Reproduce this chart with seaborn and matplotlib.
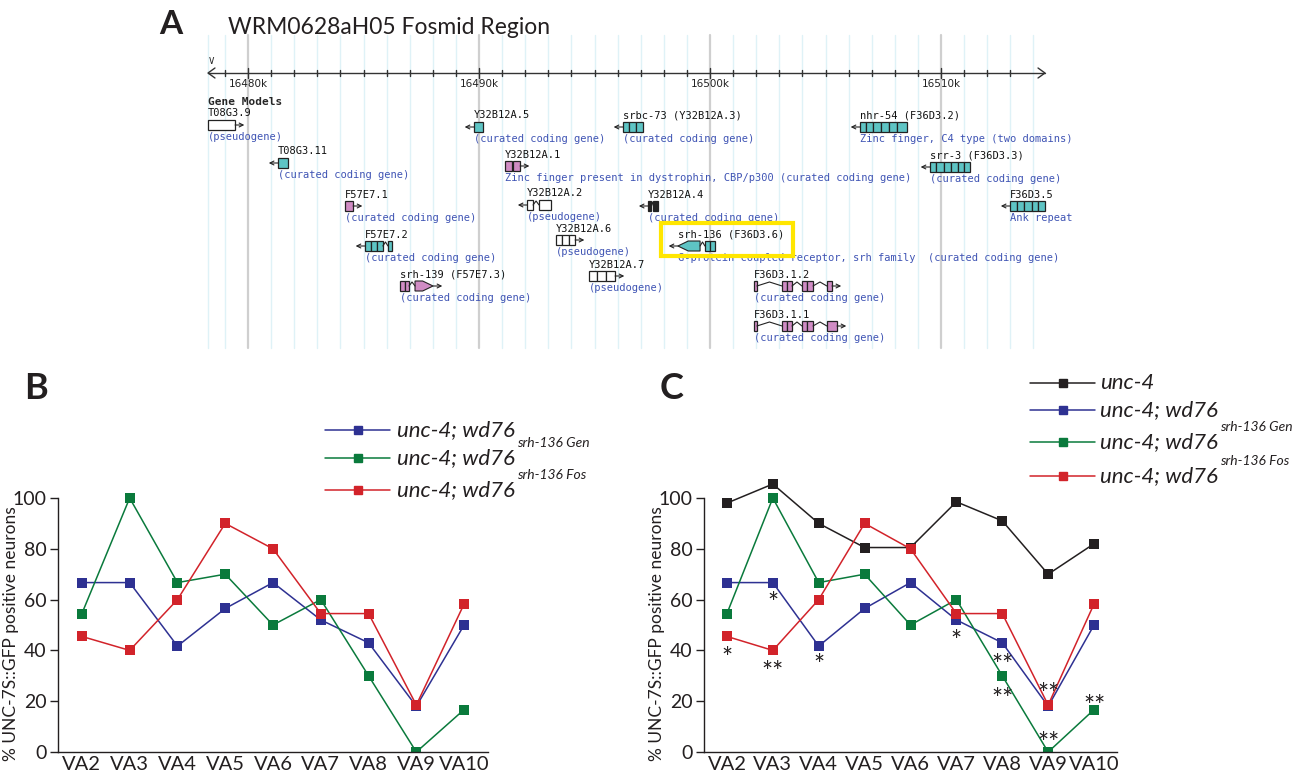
import numpy as np
import pandas as pd
import matplotlib
matplotlib.use("Agg")
import matplotlib.pyplot as plt
from matplotlib.patches import Rectangle, Polygon
import seaborn as sns

sns.set_theme(style="white")
plt.rcParams["font.family"] = ["Lato", "Liberation Sans", "DejaVu Sans"]

# ---- line chart data (panels B and C) ----
categories = ["VA2", "VA3", "VA4", "VA5", "VA6", "VA7", "VA8", "VA9", "VA10"]
unc4 = [98, 105.5, 90, 80.5, 80.5, 98.5, 91, 70, 82]
unc4_wd76 = [66.7, 66.7, 41.7, 56.5, 66.7, 52, 43, 18, 50]
wd76_gen = [54.5, 100, 66.7, 70, 50, 60, 30, 0, 16.7]
wd76_fos = [45.5, 40, 60, 90, 80, 54.5, 54.5, 18.5, 58.3]
yticks = [0, 20, 40, 60, 80, 100]

# significance marks on panel C
star_cat = ["VA2", "VA3", "VA3", "VA4", "VA7", "VA8", "VA8", "VA9", "VA9", "VA10"]
star_val = [39.9, 61.4, 34.5, 37.2, 46.7, 37.2, 23.7, 25.7, 6.6, 21.0]
star_txt = ["*", "*", "**", "*", "*", "**", "**", "**", "**", "**"]

# ---- genome browser data (panel A), positions in kb ----
ruler_start, ruler_end = 16478.27, 16514.5
major_ticks = [16480, 16490, 16500, 16510]
gene_labels = ["T08G3.9", "T08G3.11", "Y32B12A.5", "Y32B12A.1", "srbc-73 (Y32B12A.3)",
               "nhr-54 (F36D3.2)", "srr-3 (F36D3.3)", "F57E7.1", "Y32B12A.2", "Y32B12A.4",
               "F36D3.5", "F57E7.2", "Y32B12A.6", "srh-136 (F36D3.6)", "srh-139 (F57E7.3)",
               "Y32B12A.7", "F36D3.1.2", "F36D3.1.1"]
gene_desc = ["(pseudogene)", "(curated coding gene)", "(curated coding gene)",
             "Zinc finger present in dystrophin, CBP/p300 (curated coding gene)",
             "(curated coding gene)", "Zinc finger, C4 type (two domains)",
             "(curated coding gene)", "(curated coding gene)", "(pseudogene)",
             "(curated coding gene)", "Ank repeat", "(curated coding gene)", "(pseudogene)",
             "G-protein coupled receptor, srh family  (curated coding gene)",
             "(curated coding gene)", "(pseudogene)", "(curated coding gene)",
             "(curated coding gene)"]
gene_exons = [
    [(16478.27, 16479.44)],
    [(16481.30, 16481.73)],
    [(16489.78, 16490.17)],
    [(16491.13, 16491.43), (16491.47, 16491.78)],
    [(16496.23, 16496.50), (16496.50, 16496.80), (16496.80, 16497.10)],
    [(16506.49, 16506.75), (16506.75, 16507.05), (16507.05, 16507.40), (16507.40, 16507.75),
     (16507.75, 16508.10), (16508.10, 16508.53)],
    [(16509.52, 16509.80), (16509.80, 16510.15), (16510.15, 16510.45), (16510.45, 16510.75),
     (16510.75, 16511.00), (16511.00, 16511.26)],
    [(16484.20, 16484.55)],
    [(16492.08, 16492.34), (16492.60, 16493.12)],
    [(16497.32, 16497.45), (16497.55, 16497.75)],
    [(16512.99, 16513.30), (16513.30, 16513.60), (16513.60, 16513.95), (16513.95, 16514.20),
     (16514.20, 16514.50)],
    [(16485.06, 16485.32), (16485.32, 16485.58), (16485.58, 16485.84), (16486.06, 16486.23)],
    [(16493.33, 16493.60), (16493.60, 16493.88), (16493.88, 16494.16)],
    [(16498.61, 16499.57), (16499.78, 16500.00), (16500.00, 16500.22)],
    [(16486.58, 16486.78), (16486.78, 16486.97), (16487.23, 16488.01)],
    [(16494.76, 16495.10), (16495.10, 16495.50), (16495.50, 16495.89)],
    [(16501.90, 16502.03), (16503.12, 16503.33), (16503.33, 16503.55), (16503.98, 16504.22),
     (16504.22, 16504.46), (16505.06, 16505.28)],
    [(16501.90, 16502.03), (16503.12, 16503.33), (16503.33, 16503.55), (16503.98, 16504.22),
     (16504.22, 16504.46), (16505.06, 16505.50)],
]
gene_strand = [1, -1, -1, 1, -1, -1, -1, 1, -1, -1, -1, -1, 1, -1, 1, 1, 1, 1]
gene_kind = ["pseudo", "teal", "teal", "pink", "teal", "teal", "teal", "pink", "pseudo",
             "black", "teal", "teal", "pseudo", "teal", "pink", "pseudo", "pink", "pink"]
gene_lane = [125, 163, 127, 166, 127, 127, 167, 206, 205, 206, 206, 246, 240, 246, 286, 276, 286, 326]
highlight_gene = "srh-136 (F36D3.6)"

kind_colors = {"pseudo": "white", "teal": "#5ec4c4", "pink": "#d08cc4", "black": "#222222"}
line_colors = {"unc-4": "#231f20", "unc-4; wd76": "#2e3192",
               "wd76 Gen": "#0a7a3c", "wd76 Fos": "#d2232a"}

W, H = 1308, 778
fig = plt.figure(figsize=(W / 100, H / 100), dpi=100)


def fx(px):
    return px / W


def fy(py):
    return 1 - py / H


# ================= Panel A: genome browser =================
axA = fig.add_axes([fx(200), fy(350), fx(880), 320 / H])
kb0 = 16480 + (200 - 248) / 23.1
kb1 = 16480 + (1080 - 248) / 23.1
axA.set_xlim(kb0, kb1)
axA.set_ylim(350, 30)
axA.axis("off")

for k in np.arange(16479, 16515):
    col = "#cfcfcf" if k % 10 == 0 else "#dff2f7"
    axA.plot([k, k], [35, 348], color=col, lw=1.6 if k % 10 == 0 else 1.0, zorder=0)
axA.plot([ruler_start, ruler_start], [35, 348], color="#dff2f7", lw=1.0, zorder=0)

axA.plot([ruler_start, ruler_end], [73, 73], color="#333333", lw=1.0)
axA.plot([ruler_start + 0.3, ruler_start, ruler_start + 0.3], [68, 73, 78], color="#333333", lw=1.0)
axA.plot([ruler_end - 0.3, ruler_end, ruler_end - 0.3], [68, 73, 78], color="#333333", lw=1.0)
for k in np.arange(16479, 16514):
    h = 5 if k % 10 == 0 else 3
    axA.plot([k, k], [73 - h, 73 + h], color="#333333", lw=1.0)
for k in major_ticks:
    axA.text(k, 84, f"{k}k", ha="center", va="center", fontsize=7.5,
             family="DejaVu Sans", color="#222222")
axA.text(ruler_start + 0.05, 61, "V", fontsize=6.5, family="DejaVu Sans Mono", va="center")
axA.text(ruler_start, 102, "Gene Models", fontsize=8, family="DejaVu Sans Mono",
         fontweight="bold", va="center")

for name, desc, exons, strand, kind, lane in zip(gene_labels, gene_desc, gene_exons,
                                                 gene_strand, gene_kind, gene_lane):
    g0 = exons[0][0]
    g1 = exons[-1][1]
    axA.text(g0, lane - 11.5, name, fontsize=7.5, family="DejaVu Sans Mono",
             va="center", color="#111111")
    axA.text(g0, lane + 12, desc, fontsize=7.5, family="DejaVu Sans Mono",
             va="center", color="#3f54b4")
    # introns as little chevrons
    for (a0, a1), (b0, b1) in zip(exons[:-1], exons[1:]):
        if b0 - a1 > 0.05:
            mid = (a1 + b0) / 2
            axA.plot([a1, mid, b0], [lane, lane - 4, lane], color="#222222", lw=0.8)
    for i, (e0, e1) in enumerate(exons):
        pointed = ((strand == -1 and i == 0 and name.startswith("srh-136")) or
                   (strand == 1 and i == len(exons) - 1 and name.startswith("srh-139")))
        if pointed:
            tip = 0.45
            if strand == 1:
                pts = [(e0, lane - 5), (e1 - tip, lane - 5), (e1, lane), (e1 - tip, lane + 5), (e0, lane + 5)]
            else:
                pts = [(e1, lane - 5), (e0 + tip, lane - 5), (e0, lane), (e0 + tip, lane + 5), (e1, lane + 5)]
            axA.add_patch(Polygon(pts, closed=True, facecolor=kind_colors[kind],
                                  edgecolor="#222222", lw=0.8))
        else:
            axA.add_patch(Rectangle((e0, lane - 5), e1 - e0, 10, facecolor=kind_colors[kind],
                                    edgecolor="#222222", lw=0.9))
    # strand arrow
    if strand == 1:
        axA.annotate("", xy=(g1 + 0.4, lane), xytext=(g1, lane),
                     arrowprops=dict(arrowstyle="->", lw=0.8, color="#222222",
                                     shrinkA=0, shrinkB=0, mutation_scale=7))
    else:
        axA.annotate("", xy=(g0 - 0.4, lane), xytext=(g0, lane),
                     arrowprops=dict(arrowstyle="->", lw=0.8, color="#222222",
                                     shrinkA=0, shrinkB=0, mutation_scale=7))
    if name == highlight_gene:
        axA.add_patch(Rectangle((16497.9, 223), 16503.6 - 16497.9, 33, fill=False,
                                edgecolor="#ffe600", lw=3, zorder=5))

fig.text(fx(171), fy(24), "A", fontsize=24, fontweight="bold", ha="center", va="center",
         color="#231f20")
fig.text(fx(228), fy(27), "WRM0628aH05 Fosmid Region", fontsize=16.5, ha="left", va="center",
         color="#231f20")


# ================= Panels B and C: line plots =================
def make_long(series):
    frames = []
    for key, vals in series:
        frames.append(pd.DataFrame({"cell": categories, "pct": vals, "strain": key}))
    return pd.concat(frames, ignore_index=True)


def style_axis(ax):
    ax.set_xlim(-0.5, 8.5)
    ax.set_ylim(0, 108)
    ax.set_yticks(yticks)
    ax.set_yticklabels([str(v) for v in yticks], fontsize=14, color="#231f20")
    ax.set_xticks(range(len(categories)))
    ax.set_xticklabels(categories, fontsize=14.5, color="#231f20")
    ax.set_xticks(np.arange(0.5, 9.0, 1.0), minor=True)
    ax.tick_params(axis="x", which="major", length=0, pad=3)
    ax.tick_params(axis="x", which="minor", direction="in", length=6, width=1.0, color="#231f20")
    ax.tick_params(axis="y", which="major", direction="out", length=6, width=1.0,
                   color="#231f20", pad=2, left=True)
    for s in ["top", "right"]:
        ax.spines[s].set_visible(False)
    for s in ["left", "bottom"]:
        ax.spines[s].set_color("#231f20")
        ax.spines[s].set_linewidth(1.0)
    ax.spines["left"].set_bounds(0, 100)
    ax.set_xlabel("")
    ax.set_ylabel("% UNC-7S::GFP positive neurons", fontsize=12.5, color="#231f20")
    ax.patch.set_alpha(0)


legend_base = {"unc-4": "unc-4", "unc-4; wd76": "unc-4; wd76",
               "wd76 Gen": "unc-4; wd76", "wd76 Fos": "unc-4; wd76"}
legend_sup = {"unc-4": None, "unc-4; wd76": None,
              "wd76 Gen": "srh-136 Gen", "wd76 Fos": "srh-136 Fos"}


def draw_legend(x_line0, x_line1, x_text, rows, keys):
    for y, key in zip(rows, keys):
        c = line_colors[key]
        fig.add_artist(plt.Line2D([fx(x_line0), fx(x_line1)], [fy(y), fy(y)], color=c, lw=1.1))
        fig.add_artist(plt.Line2D([fx((x_line0 + x_line1) / 2)], [fy(y)], color=c, marker="s",
                                  markersize=6, lw=0))
        t = fig.text(fx(x_text), fy(y), legend_base[key], fontsize=16, style="italic",
                     ha="left", va="center", color="#231f20")
        if legend_sup[key]:
            fig.canvas.draw()
            bb = t.get_window_extent()
            fig.text(bb.x1 / W + 0.002, fy(y - 15), legend_sup[key], fontsize=10, style="italic",
                     ha="left", va="center", color="#231f20")


pal = dict(line_colors)

# Panel B
axB = fig.add_axes([fx(58), fy(752), fx(430), 108 * 2.54 / H])
dfB = make_long([("unc-4; wd76", unc4_wd76), ("wd76 Gen", wd76_gen), ("wd76 Fos", wd76_fos)])
sns.lineplot(data=dfB, x="cell", y="pct", hue="strain", palette=pal, marker="s",
             markersize=7, markeredgewidth=0, lw=1.1, ax=axB, legend=False, sort=False)
style_axis(axB)
axB.yaxis.set_label_coords(-0.09, 0.43)

# Panel C
axC = fig.add_axes([fx(704), fy(752), fx(413), 108 * 2.54 / H])
dfC = make_long([("unc-4", unc4), ("unc-4; wd76", unc4_wd76), ("wd76 Gen", wd76_gen),
                 ("wd76 Fos", wd76_fos)])
sns.lineplot(data=dfC, x="cell", y="pct", hue="strain", palette=pal, marker="s",
             markersize=7, markeredgewidth=0, lw=1.1, ax=axC, legend=False, sort=False)
style_axis(axC)
axC.yaxis.set_label_coords(-0.095, 0.43)
for cat, val, txt in zip(star_cat, star_val, star_txt):
    axC.text(categories.index(cat), val - 3.5, txt, fontsize=19, ha="center", va="center",
             color="#231f20")

fig.text(fx(36), fy(388), "B", fontsize=26, fontweight="bold", ha="center", va="center",
         color="#231f20")
fig.text(fx(672), fy(388), "C", fontsize=26, fontweight="bold", ha="center", va="center",
         color="#231f20")

draw_legend(325, 390, 397, [430, 458, 490], ["unc-4; wd76", "wd76 Gen", "wd76 Fos"])
draw_legend(1030, 1095, 1100, [383, 410, 442, 476],
            ["unc-4", "unc-4; wd76", "wd76 Gen", "wd76 Fos"])

fig.savefig("out.png", dpi=100)
